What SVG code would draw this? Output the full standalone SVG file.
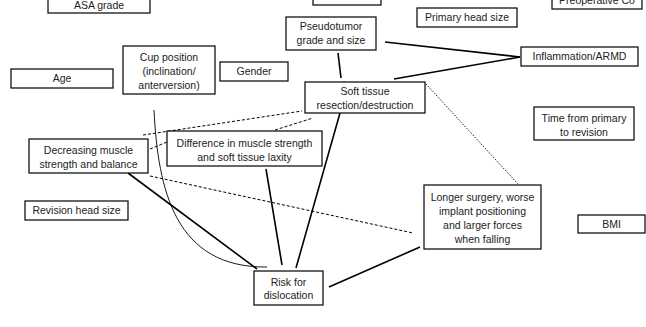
<svg xmlns="http://www.w3.org/2000/svg" width="646" height="327" viewBox="0 0 646 327">
<style>
.box{fill:#fff;stroke:#000;stroke-width:1.2}
text{font-family:"Liberation Sans",Arial,sans-serif;font-size:10.5px;fill:#222;text-anchor:middle}
.s{fill:none;stroke:#000;stroke-width:1.6}
.d{fill:none;stroke:#000;stroke-width:1;stroke-dasharray:3,2}
.dt{fill:none;stroke:#000;stroke-width:0.9;stroke-dasharray:1.5,1.5}
.arc{fill:none;stroke:#000;stroke-width:0.9}
</style>
<rect width="646" height="327" fill="#fff"/>
<g id="connectors">
<line class="s" x1="385" y1="42" x2="520" y2="57"/>
<line class="s" x1="520" y1="57" x2="394" y2="79"/>
<line class="s" x1="338" y1="53" x2="341" y2="78"/>
<line class="s" x1="340" y1="113" x2="296" y2="268"/>
<line class="dt" x1="426" y1="84" x2="518" y2="184"/>
<line class="s" x1="128" y1="173" x2="257" y2="269"/>
<line class="s" x1="266" y1="169" x2="282" y2="265"/>
<line class="s" x1="329" y1="287" x2="420" y2="247"/>
<line class="d" x1="150" y1="176" x2="413" y2="233"/>
<line class="d" x1="143" y1="135" x2="302" y2="111"/>
<line class="d" x1="150" y1="149" x2="167" y2="142"/>
<line class="d" x1="275" y1="130" x2="313" y2="118"/>
<path class="arc" d="M154,110 C158,190 175,268 267,267"/>
</g>
<g id="asa"><rect class="box" x="48" y="-12" width="102" height="25"/><text x="99" y="8.5">ASA grade</text></g>
<g id="topmid"><rect class="box" x="313" y="-12" width="68" height="17"/></g>
<g id="preop"><rect class="box" x="552" y="-12" width="90" height="21"/><text x="597" y="4">Preoperative Co</text></g>
<g id="primary"><rect class="box" x="417" y="8" width="100" height="19"/><text x="467" y="21">Primary head size</text></g>
<g id="pseudo"><rect class="box" x="286" y="17" width="90" height="33"/><text x="331" y="29.5">Pseudotumor</text><text x="331" y="43.5">grade and size</text></g>
<g id="cup"><rect class="box" x="123" y="46" width="92" height="48"/><text x="169" y="60.5">Cup position</text><text x="169" y="74.5">(inclination/</text><text x="169" y="88.5">anterversion)</text></g>
<g id="gender"><rect class="box" x="220" y="62" width="68" height="19"/><text x="254" y="75">Gender</text></g>
<g id="age"><rect class="box" x="11" y="69" width="102" height="19"/><text x="62" y="82">Age</text></g>
<g id="inflam"><rect class="box" x="521" y="47" width="117" height="19"/><text x="579.5" y="60">Inflammation/ARMD</text></g>
<g id="soft"><rect class="box" x="305" y="82" width="120" height="31"/><text x="365" y="94.5">Soft tissue</text><text x="365" y="109">resection/destruction</text></g>
<g id="time"><rect class="box" x="534" y="107" width="100" height="33"/><text x="584" y="121.5">Time from primary</text><text x="584" y="135.5">to revision</text></g>
<g id="decr"><rect class="box" x="29" y="139" width="119" height="34"/><text x="88.5" y="153.5">Decreasing muscle</text><text x="88.5" y="168">strength and balance</text></g>
<g id="diff"><rect class="box" x="167" y="131" width="155" height="35"/><text x="244.5" y="146.5">Difference in muscle strength</text><text x="244.5" y="160.5">and soft tissue laxity</text></g>
<g id="revision"><rect class="box" x="25" y="201" width="103" height="19"/><text x="76.5" y="214">Revision head size</text></g>
<g id="longer"><rect class="box" x="424" y="185" width="117" height="64"/><text x="482.5" y="200.5">Longer surgery, worse</text><text x="482.5" y="214.5">implant positioning</text><text x="482.5" y="228.5">and larger forces</text><text x="482.5" y="242.5">when falling</text></g>
<g id="bmi"><rect class="box" x="578" y="215" width="67" height="18"/><text x="611.5" y="227.5">BMI</text></g>
<g id="risk"><rect class="box" x="254" y="271" width="69" height="34"/><text x="288.5" y="285.5">Risk for</text><text x="288.5" y="299">dislocation</text></g>
</svg>
